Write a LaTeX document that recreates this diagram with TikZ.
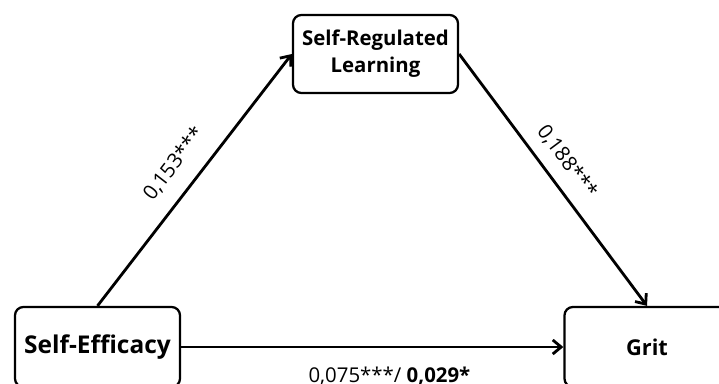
\documentclass[tikz,border=0pt]{standalone}
\usepackage{fontspec}
\setmainfont{Open Sans}
\usetikzlibrary{arrows.meta,positioning}
\tikzset{>={Straight Barb[length=6pt,width=10pt]},
	var/.style={draw,line width=1.6pt,rounded corners=6pt,align=center,
		minimum width=4.125cm,minimum height=2cm,
		font=\fontsize{17.4}{20}\selectfont\bfseries},
	path/.style={->,line width=2pt},
	labeled/.style={sloped,font=\fontsize{14.5}{17}\selectfont}}

\begin{document}
\begin{tikzpicture}[x=0.025cm,y=-0.025cm]
	\useasboundingbox (0,0) rectangle (719,383);
	\clip (0,0) rectangle (719,383);
	\node[var,minimum height=1.95cm,font=\fontsize{14.5}{19}\selectfont\bfseries]
		(srl) at (375.5,54) {Self-Regulated\\Learning};
	\node[var] (se) at (97.5,347) {Self-Efficacy};
	\node[var,font=\fontsize{15.5}{19}\selectfont\bfseries] (grit) at (647,347) {Grit};
	\draw[path] (se.north) -- node[labeled,above=8pt,pos=0.5] {0,153***} (srl.west);
	\draw[path] (srl.east) -- node[labeled,above=5pt,pos=0.48] {0,188***} (grit.north);
	\draw[path] (se.east) -- node[labeled,below=10pt,pos=0.545] {0,075***/ \textbf{0,029*}} (grit.west);
\end{tikzpicture}
\end{document}
